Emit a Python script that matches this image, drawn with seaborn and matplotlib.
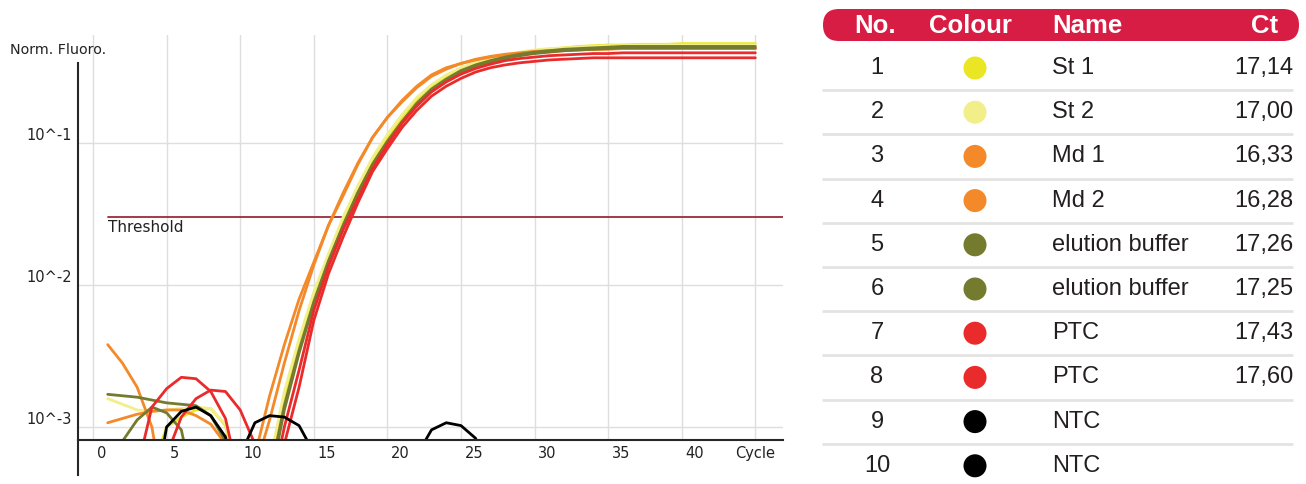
import numpy as np
import pandas as pd
import matplotlib.pyplot as plt
import seaborn as sns
from matplotlib import transforms
from matplotlib.patches import FancyBboxPatch

# ── Data ───────────────────────────────────────────
CYCLES = list(range(1, 46))

# log10 of normalised fluorescence, one value per cycle (1..45)
ST1 = [-3.6, -3.6, -3.6, -3.3, -3.0, -2.93, -2.88, -2.87, -2.99, -3.5,
       -3.6, -3.3, -2.82, -2.43, -2.09, -1.81, -1.55, -1.33, -1.13, -0.97,
       -0.83, -0.70, -0.60, -0.53, -0.48, -0.44, -0.41, -0.385, -0.365, -0.35,
       -0.34, -0.33, -0.32, -0.315, -0.31, -0.31, -0.305, -0.305, -0.305, -0.30,
       -0.30, -0.30, -0.30, -0.30, -0.30]
ST2 = [-2.80, -2.84, -2.88, -2.89, -2.88, -2.87, -2.86, -2.87, -2.98, -3.4,
       -3.6, -3.25, -2.75, -2.38, -2.05, -1.78, -1.52, -1.30, -1.10, -0.94,
       -0.80, -0.68, -0.59, -0.52, -0.47, -0.43, -0.40, -0.38, -0.36, -0.345,
       -0.335, -0.33, -0.325, -0.32, -0.315, -0.315, -0.31, -0.31, -0.31, -0.31,
       -0.31, -0.31, -0.31, -0.31, -0.31]
MD1 = [-2.42, -2.55, -2.72, -3.00, -3.6, -3.6, -3.6, -3.6, -3.6, -3.6,
       -3.2, -2.78, -2.42, -2.10, -1.84, -1.58, -1.37, -1.15, -0.96, -0.82,
       -0.70, -0.60, -0.52, -0.47, -0.44, -0.41, -0.39, -0.375, -0.365, -0.355,
       -0.35, -0.345, -0.34, -0.34, -0.335, -0.335, -0.335, -0.335, -0.335, -0.335,
       -0.335, -0.335, -0.335, -0.335, -0.335]
MD2 = [-2.97, -2.94, -2.91, -2.89, -2.88, -2.88, -2.92, -2.98, -3.12, -3.5,
       -3.3, -2.95, -2.55, -2.18, -1.86, -1.58, -1.35, -1.14, -0.96, -0.82,
       -0.71, -0.61, -0.53, -0.48, -0.44, -0.415, -0.395, -0.38, -0.37, -0.36,
       -0.355, -0.35, -0.345, -0.34, -0.34, -0.335, -0.335, -0.335, -0.335, -0.335,
       -0.335, -0.335, -0.335, -0.335, -0.335]
EB1 = [-2.77, -2.78, -2.79, -2.81, -2.83, -2.84, -2.85, -2.92, -3.10, -3.5,
       -3.6, -3.4, -2.88, -2.48, -2.13, -1.84, -1.58, -1.35, -1.15, -0.99,
       -0.85, -0.72, -0.62, -0.55, -0.49, -0.45, -0.42, -0.395, -0.375, -0.36,
       -0.35, -0.34, -0.335, -0.33, -0.325, -0.32, -0.32, -0.32, -0.32, -0.32,
       -0.32, -0.32, -0.32, -0.32, -0.32]
EB2 = [-3.6, -3.10, -2.95, -2.86, -2.90, -3.02, -3.5, -3.6, -3.6, -3.6,
       -3.6, -3.35, -2.85, -2.46, -2.12, -1.83, -1.58, -1.35, -1.15, -0.99,
       -0.85, -0.73, -0.63, -0.56, -0.50, -0.46, -0.43, -0.405, -0.385, -0.37,
       -0.36, -0.35, -0.345, -0.34, -0.335, -0.33, -0.33, -0.33, -0.33, -0.33,
       -0.33, -0.33, -0.33, -0.33, -0.33]
PTC1 = [-3.6, -3.6, -3.3, -2.86, -2.73, -2.65, -2.66, -2.75, -2.94, -3.4,
        -3.6, -3.5, -3.0, -2.6, -2.18, -1.87, -1.61, -1.39, -1.18, -1.01,
        -0.86, -0.74, -0.64, -0.57, -0.515, -0.475, -0.445, -0.42, -0.405, -0.395,
        -0.385, -0.38, -0.375, -0.37, -0.37, -0.365, -0.365, -0.365, -0.365, -0.365,
        -0.365, -0.365, -0.365, -0.365, -0.365]
PTC2 = [-3.6, -3.6, -3.6, -3.6, -3.2, -2.93, -2.80, -2.74, -2.75, -2.88,
        -3.12, -3.6, -3.12, -2.72, -2.25, -1.92, -1.66, -1.42, -1.20, -1.04,
        -0.89, -0.77, -0.67, -0.60, -0.545, -0.50, -0.47, -0.45, -0.435, -0.425,
        -0.415, -0.41, -0.405, -0.40, -0.40, -0.40, -0.40, -0.40, -0.40, -0.40,
        -0.40, -0.40, -0.40, -0.40, -0.40]
NTC1 = [-3.6, -3.6, -3.6, -3.6, -3.0, -2.89, -2.86, -2.92, -3.07, -3.6,
        -3.6, -3.6, -3.6, -3.6, -3.6, -3.6, -3.6, -3.6, -3.6, -3.6,
        -3.6, -3.2, -3.02, -2.97, -2.99, -3.08, -3.5, -3.6, -3.6, -3.6,
        -3.6, -3.6, -3.6, -3.6, -3.6, -3.6, -3.6, -3.6, -3.6, -3.6,
        -3.6, -3.6, -3.6, -3.6, -3.6]
NTC2 = [-3.6, -3.6, -3.6, -3.6, -3.6, -3.6, -3.6, -3.6, -3.6, -3.2,
        -2.97, -2.92, -2.93, -2.99, -3.18, -3.6, -3.6, -3.6, -3.6, -3.6,
        -3.6, -3.6, -3.6, -3.6, -3.6, -3.6, -3.6, -3.6, -3.6, -3.6,
        -3.6, -3.6, -3.6, -3.6, -3.6, -3.6, -3.6, -3.6, -3.6, -3.6,
        -3.6, -3.6, -3.6, -3.6, -3.6]

NOS     = ["1", "2", "3", "4", "5", "6", "7", "8", "9", "10"]
NAMES   = ["St 1", "St 2", "Md 1", "Md 2", "elution buffer", "elution buffer",
           "PTC", "PTC", "NTC", "NTC"]
CT      = ["17,14", "17,00", "16,33", "16,28", "17,26", "17,25",
           "17,43", "17,60", "", ""]
COLOURS = ["#ebe624", "#f2ee8a", "#f4892a", "#f4892a", "#747a2e", "#747a2e",
           "#ea2b2b", "#ea2b2b", "#000000", "#000000"]

THRESHOLD = -1.521
XTICKS      = [0, 5, 10, 15, 20, 25, 30, 35, 40, 45]
XTICK_LABS  = ["0", "5", "10", "15", "20", "25", "30", "35", "40", "Cycle"]
YTICKS      = [-3, -2, -1]
YTICK_LABS  = ["10^-3", "10^-2", "10^-1"]

# ── Figure ─────────────────────────────────────────
sns.set_style("white")
plt.rcParams["font.family"] = ["DejaVu Sans"]

W, H = 1306, 484
TXT = "#222222"
fig = plt.figure(figsize=(W / 100, H / 100), dpi=100)
ax = fig.add_axes([78 / W, 1 - 440 / H, 705 / W, 405 / H])

curves = [ST1, ST2, MD1, MD2, EB1, EB2, PTC1, PTC2, NTC1, NTC2]
rows = []
for no, vals in zip(NOS, curves):
    for c, v in zip(CYCLES, vals):
        rows.append((no, c, 10 ** v))
df = pd.DataFrame(rows, columns=["no", "cycle", "fluoro"])

sns.lineplot(data=df, x="cycle", y="fluoro", hue="no", hue_order=NOS,
             palette=dict(zip(NOS, COLOURS)), estimator=None,
             legend=False, linewidth=2.0, ax=ax)

ax.set_yscale("log")
ax.set_xlim(-1.02, 46.88)
ax.set_ylim(10 ** -3.0915, 10 ** -0.2394)
ax.yaxis.set_minor_locator(plt.NullLocator())
ax.set_xlabel("")
ax.set_ylabel("")

ax.set_xticks(XTICKS, XTICK_LABS)
ax.set_yticks([10.0 ** t for t in YTICKS], YTICK_LABS)
ax.tick_params(axis="x", direction="out", length=5.8, width=1, pad=-1.2,
               labelsize=10.5, labelcolor=TXT, color="#222222")
ax.tick_params(axis="y", direction="out", length=7.2, width=1, pad=-2.9,
               labelsize=10.5, labelcolor=TXT, color="#222222")
shift = transforms.ScaledTranslation(3.5 / 100, 0, fig.dpi_scale_trans)
for lab in ax.get_xticklabels():
    if lab.get_text() != "Cycle":
        lab.set_ha("left")
        lab.set_transform(lab.get_transform() + shift)
for lab in ax.get_yticklabels():
    lab.set_va("bottom")

ax.grid(True, color="#dedede", linewidth=1)
ax.set_axisbelow(True)
for s in ["top", "right"]:
    ax.spines[s].set_visible(False)
ax.spines["bottom"].set_linewidth(1.5)
ax.spines["left"].set_linewidth(1.5)
ax.spines["left"].set_bounds(10 ** -3.338, 10 ** -0.437)

# threshold
ax.axhline(10 ** THRESHOLD, xmin=30 / 705, xmax=1, color="#9b2b3b",
           linewidth=1.3, zorder=1)
ax.annotate("Threshold", xy=(1.0, 10 ** THRESHOLD), xytext=(0, -2.5),
            textcoords="offset points", ha="left", va="top",
            fontsize=11, color=TXT)

fig.text(10 / W, 1 - 50 / H, "Norm. Fluoro.", fontsize=10.3, color=TXT,
         va="center", ha="left")

# ── Table ──────────────────────────────────────────
tb = fig.add_axes([0, 0, 1, 1])
tb.set_xlim(0, W)
tb.set_ylim(H, 0)
tb.axis("off")

tb.add_patch(FancyBboxPatch((823, 9), 476, 32,
                            boxstyle="round,pad=0,rounding_size=16",
                            facecolor="#d71d43", edgecolor="none"))
hdr = dict(color="white", fontsize=18.5, fontweight="bold",
           family="Liberation Sans", va="center")
tb.text(875, 26, "No.", ha="center", **hdr)
tb.text(970, 26, "Colour", ha="center", **hdr)
tb.text(1052, 26, "Name", ha="left", **hdr)
tb.text(1278, 26, "Ct", ha="right", **hdr)

row_y = [68 + 44.2 * i for i in range(len(NOS))]
for i in range(len(NOS) - 1):
    y = row_y[i] + 22.1
    tb.plot([822, 1293], [y, y], color="#e3e3e3", linewidth=2, solid_capstyle="butt")

body = dict(color="#231f20", fontsize=17, family="Liberation Sans", va="center")
for y, no, name, ct in zip(row_y, NOS, NAMES, CT):
    tb.text(877, y, no, ha="center", **body)
    tb.text(1052, y, name, ha="left", **body)
    tb.text(1293, y, ct, ha="right", **body)
tb.scatter([975] * len(NOS), row_y, s=275, c=COLOURS, linewidths=0)

fig.savefig("out.png", dpi=100)
